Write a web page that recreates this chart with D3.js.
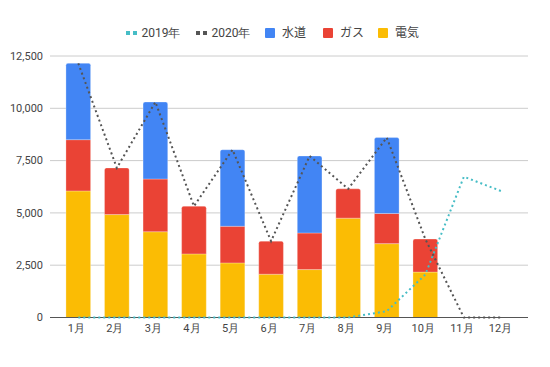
<!DOCTYPE html>
<html><head><meta charset="utf-8">
<script src="https://cdn.jsdelivr.net/npm/d3@7"></script>
<style>body{margin:0;background:#fff}svg{display:block;font-family:Roboto,Arial,sans-serif}</style>
</head><body><svg id="c" width="550" height="367"></svg>
<script>
const months = ["1月","2月","3月","4月","5月","6月","7月","8月","9月","10月","11月","12月"];
const denki = [6050,4920,4100,3040,2610,2070,2290,4750,3530,2170,0,0];
const gas   = [2450,2230,2520,2280,1750,1580,1750,1400,1440,1580,0,0];
const suido = [3650,0,3680,0,3660,0,3680,0,3630,0,0,0];
const y2019 = [0,0,0,0,0,0,0,0,300,2050,6730,6020];
const y2020 = [12150,7150,10300,5320,8020,3650,7720,6150,8600,3750,0,0];
const yTicks = [0,2500,5000,7500,10000,12500];

const svg = d3.select("#c");
const x = d3.scaleBand().domain(months).range([59,521.7]).paddingInner(0.36).paddingOuter(0.18);
const y = d3.scaleLinear().domain([0,12500]).range([317.5,56]);
const fmt = d3.format(",");

// gridlines
svg.append("g").selectAll("line").data(yTicks.filter(d=>d>0)).join("line")
  .attr("x1",50).attr("x2",528).attr("y1",d=>y(d)).attr("y2",d=>y(d))
  .attr("stroke","#ccc").attr("stroke-width",1);
// y labels
svg.append("g").selectAll("text").data(yTicks).join("text")
  .attr("x",43).attr("y",d=>y(d)).attr("dy","0.35em").attr("text-anchor","end")
  .attr("font-size",11).attr("fill","#444").text(d=>fmt(d));

// stacked bars
const rows = months.map((m,i)=>({m, denki:denki[i], gas:gas[i], suido:suido[i]}));
const keys = ["denki","gas","suido"];
const colors = {denki:"#FBBC04", gas:"#EA4335", suido:"#4285F4"};
const stack = d3.stack().keys(keys)(rows);
const r = 2;
function segPath(x0,w,yTop,yBot,round){
  if(!round) return `M${x0},${yBot}V${yTop}H${x0+w}V${yBot}Z`;
  return `M${x0},${yBot}V${yTop+r}Q${x0},${yTop} ${x0+r},${yTop}H${x0+w-r}Q${x0+w},${yTop} ${x0+w},${yTop+r}V${yBot}Z`;
}
stack.forEach((layer,li)=>{
  svg.append("g").selectAll("path").data(layer).join("path")
    .filter(d=>d[1]-d[0]>0)
    .attr("d",(d,i)=>{
      const idx = months.indexOf(d.data.m);
      // is this the top segment?
      let top = true;
      for(let k=li+1;k<keys.length;k++){ if(d.data[keys[k]]>0) top=false; }
      return segPath(x(d.data.m), x.bandwidth(), y(d[1]), y(d[0]), top);
    })
    .attr("fill",colors[layer.key])
    .attr("stroke","#fff").attr("stroke-opacity",0.35).attr("stroke-width",0.8);
});

// baseline
svg.append("line").attr("x1",50).attr("x2",528).attr("y1",y(0)).attr("y2",y(0))
  .attr("stroke","#555").attr("stroke-width",1.2);

// lines
const cx = m => x(m)+x.bandwidth()/2;
const line = d3.line().x((d,i)=>cx(months[i])).y(d=>y(d));
svg.append("path").datum(y2019).attr("d",line).attr("fill","none")
  .attr("stroke","#46BDC6").attr("stroke-width",2).attr("stroke-dasharray","2,3");
svg.append("path").datum(y2020).attr("d",line).attr("fill","none")
  .attr("stroke","#555").attr("stroke-width",2).attr("stroke-dasharray","2,3");

// x labels
svg.append("g").selectAll("text").data(months).join("text")
  .attr("x",d=>cx(d)-2).attr("y",332).attr("text-anchor","middle")
  .attr("font-size",11).attr("fill","#444").text(d=>d);

// legend
const lg = svg.append("g").attr("font-size",12).attr("fill","#444");
const ly = 33;
// line markers
[[126,"#46BDC6","2019年",141.5],[196,"#555","2020年",211.5]].forEach(([mx,c,t,tx])=>{
  lg.append("rect").attr("x",mx).attr("y",ly-2).attr("width",4).attr("height",4).attr("fill",c);
  lg.append("rect").attr("x",mx+7).attr("y",ly-2).attr("width",4).attr("height",4).attr("fill",c);
  lg.append("text").attr("x",tx).attr("y",ly).attr("dy","0.35em").attr("fill","#444").text(t);
});
[[265,"#4285F4","水道"],[323,"#EA4335","ガス"],[378,"#FBBC04","電気"]].forEach(([mx,c,t])=>{
  lg.append("rect").attr("x",mx).attr("y",ly-5).attr("width",10).attr("height",10).attr("rx",1).attr("fill",c);
  lg.append("text").attr("x",mx+17).attr("y",ly).attr("dy","0.35em").attr("fill","#444")
    .attr("font-family","'Noto Sans CJK JP',sans-serif").text(t);
});
</script></body></html>
